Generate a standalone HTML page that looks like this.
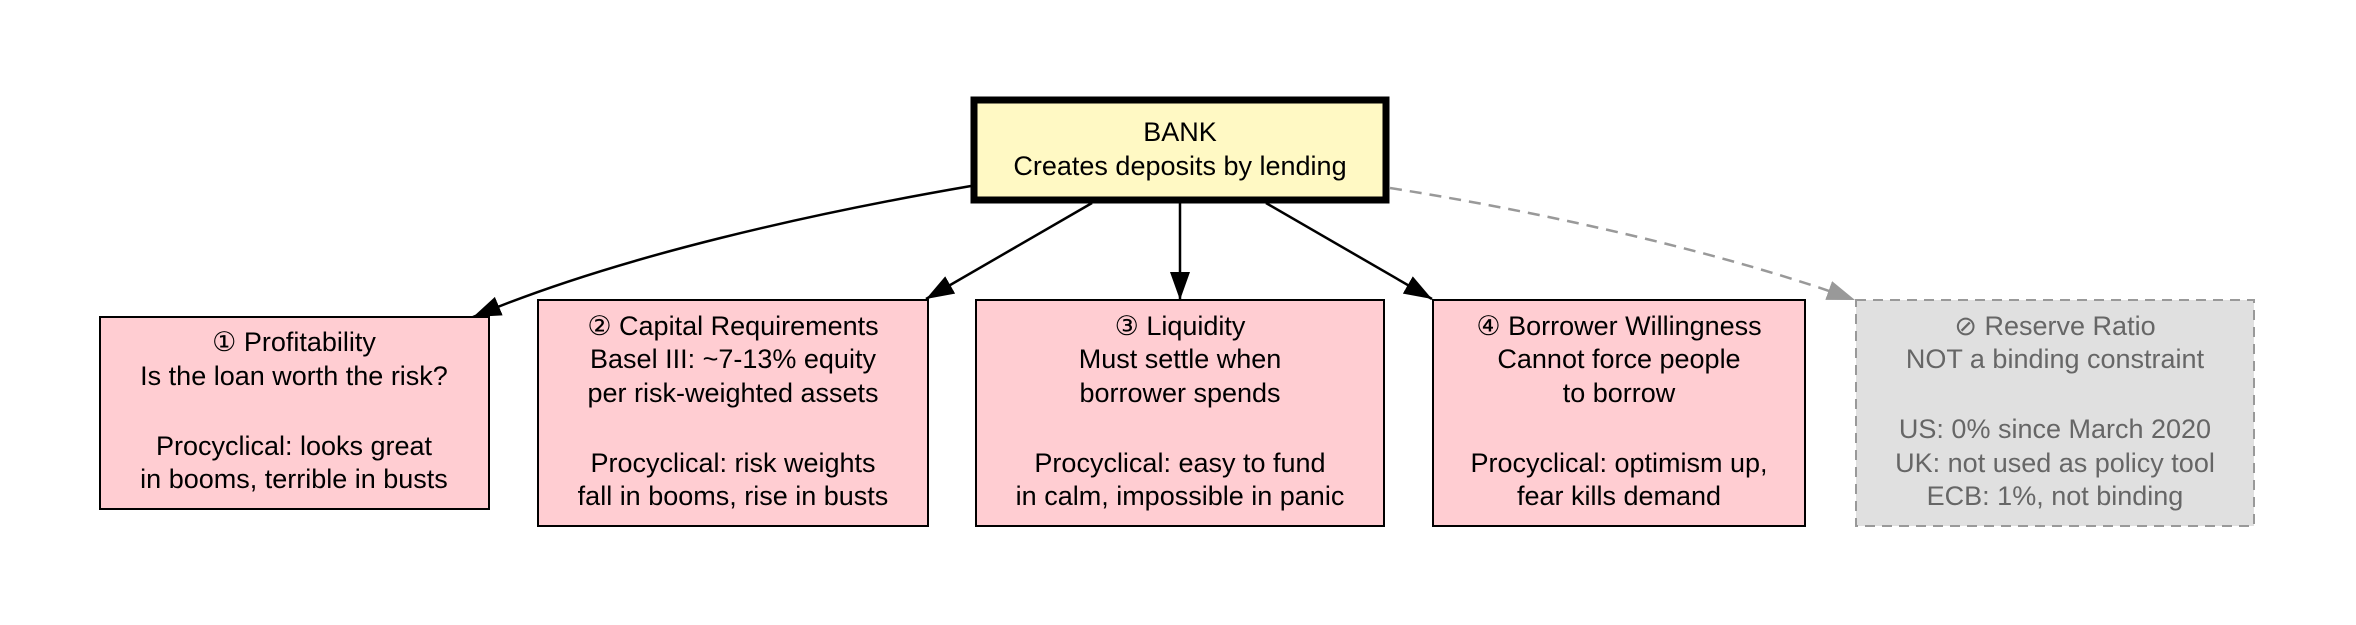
<!DOCTYPE html>
<html><head><meta charset="utf-8"><style>
html,body{margin:0;padding:0;background:#fff;}
svg{display:block;}
text{font-family:"Liberation Sans",Arial,sans-serif;font-size:27px;text-anchor:middle;}
</style></head><body>
<svg width="2356" height="625" viewBox="0 0 2356 625" xmlns="http://www.w3.org/2000/svg">
<defs>
<marker id="a" markerWidth="28" markerHeight="20" refX="28" refY="10" orient="auto" markerUnits="userSpaceOnUse"><path d="M0,0 L28,10 L0,20 z" fill="#000"/></marker>
<marker id="g" markerWidth="28" markerHeight="20" refX="28" refY="10" orient="auto" markerUnits="userSpaceOnUse"><path d="M0,0 L28,10 L0,20 z" fill="#999"/></marker>
</defs>
<!-- edges -->
<path d="M971,186 C820,212 620,255 473,317" fill="none" stroke="#000" stroke-width="2.5" marker-end="url(#a)"/>
<line x1="1092" y1="203" x2="926" y2="299" stroke="#000" stroke-width="2.5" marker-end="url(#a)"/>
<line x1="1180" y1="203" x2="1180" y2="300" stroke="#000" stroke-width="2.5" marker-end="url(#a)"/>
<line x1="1266" y1="203" x2="1432" y2="299" stroke="#000" stroke-width="2.5" marker-end="url(#a)"/>
<path d="M1390,188 C1560,215 1730,255 1855,300" fill="none" stroke="#999" stroke-width="2.5" stroke-dasharray="12,8" marker-end="url(#g)"/>
<!-- bank -->
<rect x="974" y="100" width="412" height="100" fill="#fff9c4" stroke="#000" stroke-width="7"/>
<text x="1180" y="141">BANK</text>
<text x="1180" y="175">Creates deposits by lending</text>
<!-- node 1 -->
<rect x="100" y="317" width="389" height="192" fill="#ffcdd2" stroke="#000" stroke-width="2"/>
<text x="294" y="351">① Profitability</text>
<text x="294" y="385">Is the loan worth the risk?</text>
<text x="294" y="455">Procyclical: looks great</text>
<text x="294" y="488">in booms, terrible in busts</text>
<!-- node 2 -->
<rect x="538" y="300" width="390" height="226" fill="#ffcdd2" stroke="#000" stroke-width="2"/>
<text x="733" y="335">② Capital Requirements</text>
<text x="733" y="368">Basel III: ~7-13% equity</text>
<text x="733" y="402">per risk-weighted assets</text>
<text x="733" y="472">Procyclical: risk weights</text>
<text x="733" y="505">fall in booms, rise in busts</text>
<!-- node 3 -->
<rect x="976" y="300" width="408" height="226" fill="#ffcdd2" stroke="#000" stroke-width="2"/>
<text x="1180" y="335">③ Liquidity</text>
<text x="1180" y="368">Must settle when</text>
<text x="1180" y="402">borrower spends</text>
<text x="1180" y="472">Procyclical: easy to fund</text>
<text x="1180" y="505">in calm, impossible in panic</text>
<!-- node 4 -->
<rect x="1433" y="300" width="372" height="226" fill="#ffcdd2" stroke="#000" stroke-width="2"/>
<text x="1619" y="335">④ Borrower Willingness</text>
<text x="1619" y="368">Cannot force people</text>
<text x="1619" y="402">to borrow</text>
<text x="1619" y="472">Procyclical: optimism up,</text>
<text x="1619" y="505">fear kills demand</text>
<!-- node 5 -->
<rect x="1856" y="300" width="398" height="226" fill="#e0e0e0" stroke="#999" stroke-width="2" stroke-dasharray="10,7"/>
<g fill="#666">
<text x="2055" y="335">⊘ Reserve Ratio</text>
<text x="2055" y="368">NOT a binding constraint</text>
<text x="2055" y="438">US: 0% since March 2020</text>
<text x="2055" y="472">UK: not used as policy tool</text>
<text x="2055" y="505">ECB: 1%, not binding</text>
</g>
</svg>
</body></html>
